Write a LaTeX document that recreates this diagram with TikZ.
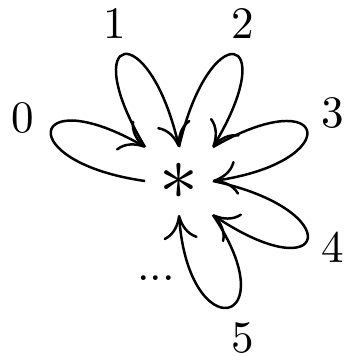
\documentclass[tikz,border=0pt]{standalone}
\usetikzlibrary{arrows.meta}
\begin{document}
\begin{tikzpicture}[x=0.222pt,y=0.222pt,
    petal/.style={line width=0.55pt,-{Computer Modern Rightarrow[length=5.4pt,width=7.6pt]}}]
        % Frame
        \useasboundingbox (0,0) rectangle (344,356);
        % Base point
        \node[minimum size=14.65pt,inner sep=0pt,font=\fontsize{16pt}{16pt}\selectfont] (base) at (179,175) {$*$};
        % Labels
        \node (l0) at (23,238) {0};
        \node (l1) at (115,333) {1};
        \node (l2) at (243,333) {2};
        \node (l3) at (333,243) {3};
        \node (l4) at (333,109) {4};
        \node (l5) at (243,18) {5};
        \node (dots) at (156,78) {...};
        % Loops
        \draw[petal] (base.west) to[out=172,in=150,distance=30pt] (base.north west);
        \draw[petal] (base.north west) to[out=121,in=103,distance=30pt] (base.north);
        \draw[petal] (base.north) to[out=77,in=59,distance=30pt] (base.north east);
        \draw[petal] (base.north east) to[out=30,in=8,distance=30pt] (base.east);
        \draw[petal] (base.east) to[out=-12,in=-34,distance=31pt] (base.south east);
        \draw[petal] (base.south east) to[out=-56,in=-86,distance=30pt] (base.south);
\end{tikzpicture}
\end{document}
